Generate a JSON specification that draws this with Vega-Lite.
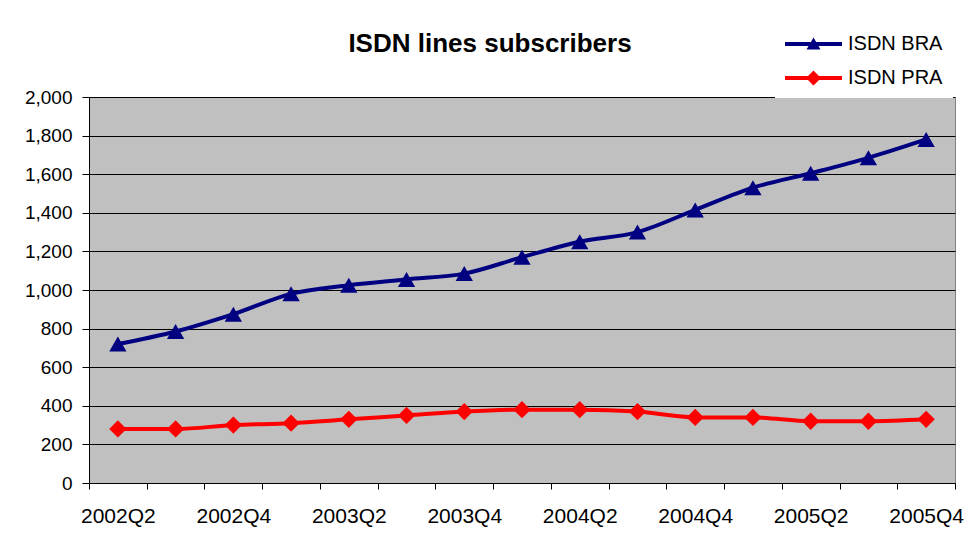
{
  "$schema": "https://vega.github.io/schema/vega-lite/v6.json",
  "width": 866,
  "height": 386,
  "autosize": {"type": "none"},
  "padding": {"left": 89, "top": 97, "right": 12, "bottom": 75},
  "background": "white",
  "view": {"fill": "#C0C0C0", "stroke": "#808080", "strokeWidth": 1},
  "title": {
    "text": "ISDN lines subscribers",
    "font": "Liberation Sans",
    "fontSize": 26,
    "fontWeight": "bold",
    "color": "#000000",
    "anchor": "middle",
    "frame": "group",
    "dx": -32,
    "dy": 33,
    "offset": 0
  },
  "config": {
    "font": "Liberation Sans",
    "view": {"fill": "#C0C0C0", "stroke": "#808080", "strokeWidth": 1}
  },
  "data": {
    "values": [
      {"quarter": "2002Q2", "series": "ISDN BRA", "value": 720},
      {"quarter": "2002Q3", "series": "ISDN BRA", "value": 785},
      {"quarter": "2002Q4", "series": "ISDN BRA", "value": 875},
      {"quarter": "2003Q1", "series": "ISDN BRA", "value": 980},
      {"quarter": "2003Q2", "series": "ISDN BRA", "value": 1025},
      {"quarter": "2003Q3", "series": "ISDN BRA", "value": 1055},
      {"quarter": "2003Q4", "series": "ISDN BRA", "value": 1085},
      {"quarter": "2004Q1", "series": "ISDN BRA", "value": 1170},
      {"quarter": "2004Q2", "series": "ISDN BRA", "value": 1250},
      {"quarter": "2004Q3", "series": "ISDN BRA", "value": 1300},
      {"quarter": "2004Q4", "series": "ISDN BRA", "value": 1415},
      {"quarter": "2005Q1", "series": "ISDN BRA", "value": 1530},
      {"quarter": "2005Q2", "series": "ISDN BRA", "value": 1605},
      {"quarter": "2005Q3", "series": "ISDN BRA", "value": 1685},
      {"quarter": "2005Q4", "series": "ISDN BRA", "value": 1780},
      {"quarter": "2002Q2", "series": "ISDN PRA", "value": 280},
      {"quarter": "2002Q3", "series": "ISDN PRA", "value": 280},
      {"quarter": "2002Q4", "series": "ISDN PRA", "value": 300},
      {"quarter": "2003Q1", "series": "ISDN PRA", "value": 310},
      {"quarter": "2003Q2", "series": "ISDN PRA", "value": 330},
      {"quarter": "2003Q3", "series": "ISDN PRA", "value": 350},
      {"quarter": "2003Q4", "series": "ISDN PRA", "value": 370},
      {"quarter": "2004Q1", "series": "ISDN PRA", "value": 380},
      {"quarter": "2004Q2", "series": "ISDN PRA", "value": 380},
      {"quarter": "2004Q3", "series": "ISDN PRA", "value": 370},
      {"quarter": "2004Q4", "series": "ISDN PRA", "value": 340},
      {"quarter": "2005Q1", "series": "ISDN PRA", "value": 340},
      {"quarter": "2005Q2", "series": "ISDN PRA", "value": 320},
      {"quarter": "2005Q3", "series": "ISDN PRA", "value": 320},
      {"quarter": "2005Q4", "series": "ISDN PRA", "value": 330}
    ]
  },
  "encoding": {
    "x": {
      "field": "quarter",
      "type": "ordinal",
      "sort": null,
      "scale": {"type": "band", "paddingInner": 0, "paddingOuter": 0},
      "axis": {
        "title": null,
        "labelAngle": 0,
        "tickBand": "extent",
        "tickSize": 6,
        "tickColor": "#000000",
        "domainColor": "#000000",
        "labelPadding": 16,
        "labelFontSize": 21,
        "labelColor": "#000000",
        "labelOverlap": false,
        "labelBound": false,
        "labelExpr": "indexof(datum.label, 'Q2') > 0 || indexof(datum.label, 'Q4') > 0 ? datum.label : ''",
        "grid": false
      }
    },
    "y": {
      "field": "value",
      "type": "quantitative",
      "scale": {"domain": [0, 2000], "nice": false},
      "axis": {
        "title": null,
        "values": [0, 200, 400, 600, 800, 1000, 1200, 1400, 1600, 1800, 2000],
        "format": ",.0f",
        "tickSize": 7,
        "tickColor": "#000000",
        "domainColor": "#000000",
        "labelPadding": 10,
        "labelFontSize": 19,
        "labelColor": "#000000",
        "gridColor": "#000000",
        "gridWidth": 1,
        "gridOpacity": 1
      }
    }
  },
  "layer": [
    {
      "mark": {"type": "line", "strokeWidth": 4, "interpolate": "monotone"},
      "encoding": {
        "color": {
          "field": "series",
          "type": "nominal",
          "scale": {"domain": ["ISDN BRA", "ISDN PRA"], "range": ["#000080", "#FF0000"]},
          "legend": null
        }
      }
    },
    {
      "mark": {"type": "point", "filled": true, "opacity": 1, "size": 300},
      "encoding": {
        "color": {"field": "series", "type": "nominal", "legend": null},
        "shape": {
          "field": "series",
          "type": "nominal",
          "scale": {"domain": ["ISDN BRA", "ISDN PRA"], "range": ["triangle-up", "diamond"]},
          "legend": null
        }
      }
    },
    {
      "transform": [{"filter": "false"}],
      "mark": {"type": "point", "filled": true, "opacity": 1},
      "encoding": {
        "x": null,
        "y": null,
        "fill": {
          "field": "series",
          "type": "nominal",
          "scale": {"domain": ["ISDN BRA", "ISDN PRA"], "range": ["#000080", "#FF0000"]},
          "legend": {
            "orient": "none",
            "legendX": 686,
            "legendY": -73,
            "title": null,
            "fillColor": "#FFFFFF",
            "padding": 10,
            "symbolSize": 400,
            "symbolStrokeWidth": 0,
            "symbolOpacity": 1,
            "labelFontSize": 20,
            "labelColor": "#000000",
            "labelOffset": 43,
            "rowPadding": 14,
            "zindex": 1
          }
        },
        "shape": {
          "field": "series",
          "type": "nominal",
          "scale": {
            "domain": ["ISDN BRA", "ISDN PRA"],
            "range": [
              "M-1,-0.2H4.7V0.2H-1Z M1.15,0.55L1.85,-0.65L2.55,0.55Z",
              "M-1,-0.2H4.7V0.2H-1Z M1.85,-0.75L2.6,0L1.85,0.75L1.1,0Z"
            ]
          },
          "legend": {
            "orient": "none",
            "legendX": 686,
            "legendY": -73,
            "title": null,
            "fillColor": "#FFFFFF",
            "padding": 10,
            "symbolSize": 400,
            "symbolStrokeWidth": 0,
            "symbolOpacity": 1,
            "labelFontSize": 20,
            "labelColor": "#000000",
            "labelOffset": 43,
            "rowPadding": 14,
            "zindex": 1
          }
        }
      }
    }
  ],
  "resolve": {
    "scale": {"shape": "independent", "fill": "independent"},
    "legend": {"shape": "independent", "fill": "independent"}
  }
}
